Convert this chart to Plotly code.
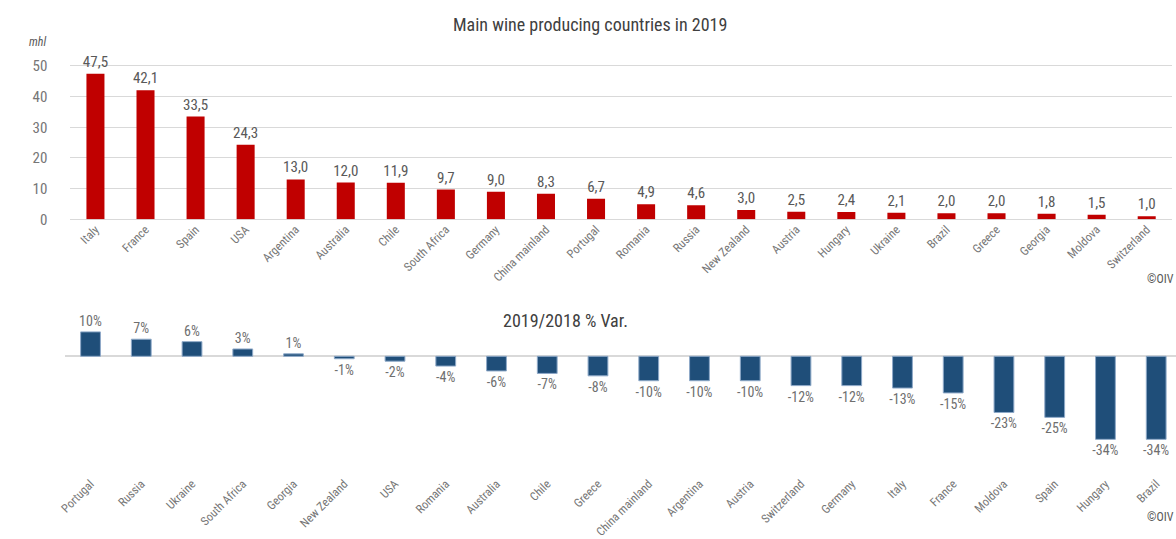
import plotly.graph_objects as go

# Wine production 2019 (mhl)
prod_countries = ["Italy", "France", "Spain", "USA", "Argentina", "Australia", "Chile",
                  "South Africa", "Germany", "China mainland", "Portugal", "Romania",
                  "Russia", "New Zealand", "Austria", "Hungary", "Ukraine", "Brazil",
                  "Greece", "Georgia", "Moldova", "Switzerland"]
prod_values = [47.5, 42.1, 33.5, 24.3, 13.0, 12.0, 11.9, 9.7, 9.0, 8.3, 6.7, 4.9,
               4.6, 3.0, 2.5, 2.4, 2.1, 2.0, 2.0, 1.8, 1.5, 1.0]

# Variation 2019/2018 (%)
var_countries = ["Portugal", "Russia", "Ukraine", "South Africa", "Georgia", "New Zealand",
                 "USA", "Romania", "Australia", "Chile", "Greece", "China mainland",
                 "Argentina", "Austria", "Switzerland", "Germany", "Italy", "France",
                 "Moldova", "Spain", "Hungary", "Brazil"]
var_values = [10, 7, 6, 3, 1, -1, -2, -4, -6, -7, -8, -10, -10, -10, -12, -12, -13,
              -15, -23, -25, -34, -34]

FONT = "Roboto Condensed, Liberation Sans Narrow, DejaVu Sans Condensed, Roboto, sans-serif"
GREY = "#595959"
LIGHT = "#767676"
W, H = 1176, 539


def py(px):
    """Convert a pixel row (from top) to paper y."""
    return (H - px) / H


fig = go.Figure()

fig.add_trace(go.Bar(
    x=prod_countries, y=prod_values,
    text=[f"{v:.1f}".replace(".", ",") for v in prod_values],
    textposition="outside", cliponaxis=False, constraintext="none",
    textfont=dict(size=15, color=GREY, family=FONT),
    marker=dict(color="#C00000", line=dict(width=0)),
    width=0.36,
    xaxis="x", yaxis="y", hoverinfo="skip",
))

fig.add_trace(go.Bar(
    x=var_countries, y=var_values,
    text=[f"{v}%" for v in var_values],
    textposition="outside", cliponaxis=False, constraintext="none",
    textfont=dict(size=14, color="#6F6F6F", family=FONT),
    marker=dict(color="#1F4E79", line=dict(width=1, color="#8EA9C8")),
    width=0.39,
    xaxis="x2", yaxis="y2", hoverinfo="skip",
))

# bottom panel: category step of ~51 px starting at x=58.5, running off the right edge
bottom_left = 58.5
bottom_step = 51.05
bottom_span = (W - bottom_left) / bottom_step

fig.update_layout(
    width=W, height=H,
    margin=dict(l=0, r=0, t=0, b=0),
    paper_bgcolor="white", plot_bgcolor="white",
    showlegend=False,
    font=dict(family=FONT, color=GREY),
    xaxis=dict(domain=[63.8 / W, 1171.7 / W], anchor="y", tickangle=-45,
               tickfont=dict(size=12, color=LIGHT), showgrid=False,
               showline=False, ticks=""),
    yaxis=dict(domain=[py(226), py(52.2)], range=[0, 55], anchor="x",
               tickvals=[0, 10, 20, 30, 40, 50], showgrid=True,
               gridcolor="#D9D9D9", gridwidth=1, zeroline=True,
               zerolinecolor="#D9D9D9", zerolinewidth=1,
               tickfont=dict(size=15, color=LIGHT), ticks="", ticklabelstandoff=22),
    xaxis2=dict(domain=[bottom_left / W, 1.0], anchor="y2", tickangle=-45,
                range=[-0.5, -0.5 + bottom_span],
                tickfont=dict(size=12, color=LIGHT), showgrid=False,
                showline=False, ticks="", ticklabelstandoff=4),
    yaxis2=dict(domain=[py(484), py(337)], range=[-46.4, 12], anchor="x2",
                showticklabels=False, showgrid=False, zeroline=True,
                zerolinecolor="#D9D9D9", zerolinewidth=2, ticks=""),
    annotations=[
        dict(text="Main wine producing countries in 2019", x=586 / W, y=py(25),
             xref="paper", yref="paper", showarrow=False, yanchor="middle",
             font=dict(size=18, color="#404040", family=FONT)),
        dict(text="<i>mhl</i>", x=20 / W, y=py(43), xref="paper", yref="paper",
             showarrow=False, yanchor="middle",
             font=dict(size=12, color=GREY, family=FONT)),
        dict(text="©OIV", x=1.0, y=py(288), xref="paper", yref="paper",
             xanchor="right", yanchor="middle", showarrow=False,
             font=dict(size=12, color=GREY, family=FONT)),
        dict(text="2019/2018 % Var.", x=562 / W, y=py(330), xref="paper", yref="paper",
             showarrow=False, yanchor="middle",
             font=dict(size=18, color="#404040", family=FONT)),
        dict(text="©OIV", x=1.0, y=py(533), xref="paper", yref="paper",
             xanchor="right", yanchor="middle", showarrow=False,
             font=dict(size=12, color=GREY, family=FONT)),
    ],
)

fig.write_html("out.html")
